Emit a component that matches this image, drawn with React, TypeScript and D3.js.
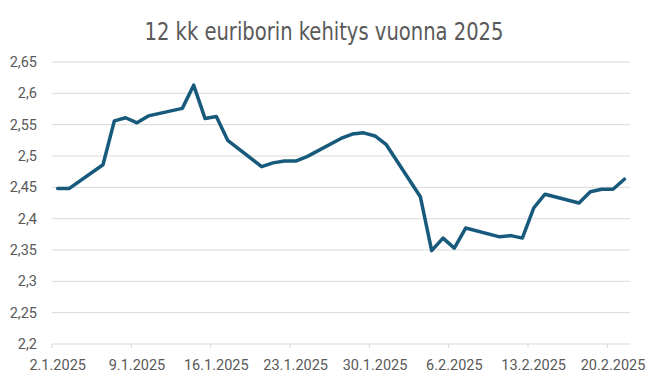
import React, { useEffect } from 'react'
import * as d3 from 'd3'

const title = '12 kk euriborin kehitys vuonna 2025'

// euribor 12 kk, pankkipäivät
const days = [
  '2025-01-02', '2025-01-03', '2025-01-06', '2025-01-07', '2025-01-08', '2025-01-09', '2025-01-10',
  '2025-01-13', '2025-01-14', '2025-01-15', '2025-01-16', '2025-01-17',
  '2025-01-20', '2025-01-21', '2025-01-22', '2025-01-23', '2025-01-24',
  '2025-01-27', '2025-01-28', '2025-01-29', '2025-01-30', '2025-01-31',
  '2025-02-03', '2025-02-04', '2025-02-05', '2025-02-06', '2025-02-07',
  '2025-02-10', '2025-02-11', '2025-02-12', '2025-02-13', '2025-02-14',
  '2025-02-17', '2025-02-18', '2025-02-19', '2025-02-20', '2025-02-21'
]
const rates = [
  2.448, 2.448, 2.486, 2.556, 2.561, 2.553, 2.564,
  2.576, 2.613, 2.560, 2.563, 2.525,
  2.483, 2.489, 2.492, 2.492, 2.499,
  2.528, 2.535, 2.537, 2.532, 2.518,
  2.435, 2.349, 2.369, 2.353, 2.385,
  2.371, 2.373, 2.369, 2.417, 2.439,
  2.425, 2.443, 2.447, 2.447, 2.463
]
const axisStart = '2025-01-02'
const axisEnd = '2025-02-22'
const yTicks = [2.2, 2.25, 2.3, 2.35, 2.4, 2.45, 2.5, 2.55, 2.6, 2.65]

const W = 647
const H = 385
const margin = { top: 62, right: 17, bottom: 41, left: 52 }

const parse = d3.timeParse('%Y-%m-%d')
const fi = d3.formatLocale({ decimal: ',', thousands: ' ', grouping: [3], currency: ['', ' €'] })
const yFmt = fi.format('~g')
const xFmt = d3.timeFormat('%-d.%-m.%Y')

export default function App () {
  useEffect(() => {
    document.body.style.margin = '0'
  }, [])

  const start = parse(axisStart)
  const end = parse(axisEnd)
  const x = d3.scaleTime().domain([start, end]).range([margin.left, W - margin.right])
  const y = d3.scaleLinear().domain([2.2, 2.65]).range([H - margin.bottom, margin.top])

  const data = days.map((d, i) => ({ date: parse(d), v: rates[i] }))
  const mid = (d) => x(d3.timeHour.offset(d, 12))

  const line = d3.line()
    .x(d => mid(d.date))
    .y(d => y(d.v))

  const xTicks = d3.range(0, 50, 7).map(i => d3.timeDay.offset(start, i))

  const grey = '#595959'
  const font = 'Roboto, "Liberation Sans", Arial, sans-serif'

  return (
    <svg width={W} height={H} style={{ display: 'block', background: '#fff' }}>
      <text x={324} y={40} textAnchor='middle' fill={grey}
        style={{ fontFamily: '"Liberation Sans Narrow", "DejaVu Sans Condensed", Roboto, sans-serif', fontSize: 24 }}
        textLength={359} lengthAdjust='spacingAndGlyphs'>
        {title}
      </text>

      {yTicks.map(t => (
        <g key={t}>
          {t > 2.2 && (
            <line x1={margin.left} x2={W - margin.right} y1={y(t)} y2={y(t)} stroke='#d9d9d9' strokeWidth={1} />
          )}
          <text x={37} y={y(t)} dy='0.35em' textAnchor='end' fill={grey} style={{ fontFamily: font, fontSize: 14.5 }}>
            {yFmt(t)}
          </text>
        </g>
      ))}

      <line x1={margin.left} x2={W - margin.right} y1={y(2.2)} y2={y(2.2)} stroke='#d9d9d9' strokeWidth={1} />
      {xTicks.map(t => (
        <g key={+t}>
          <line x1={x(t)} x2={x(t)} y1={y(2.2)} y2={y(2.2) + 4} stroke='#d9d9d9' strokeWidth={1} />
          <text x={mid(t)} y={y(2.2) + 26} textAnchor='middle' fill={grey} style={{ fontFamily: font, fontSize: 14.5 }}>
            {xFmt(t)}
          </text>
        </g>
      ))}

      <path d={line(data)} fill='none' stroke='#175a7c' strokeWidth={3.5} strokeLinejoin='round' strokeLinecap='round' />
    </svg>
  )
}
